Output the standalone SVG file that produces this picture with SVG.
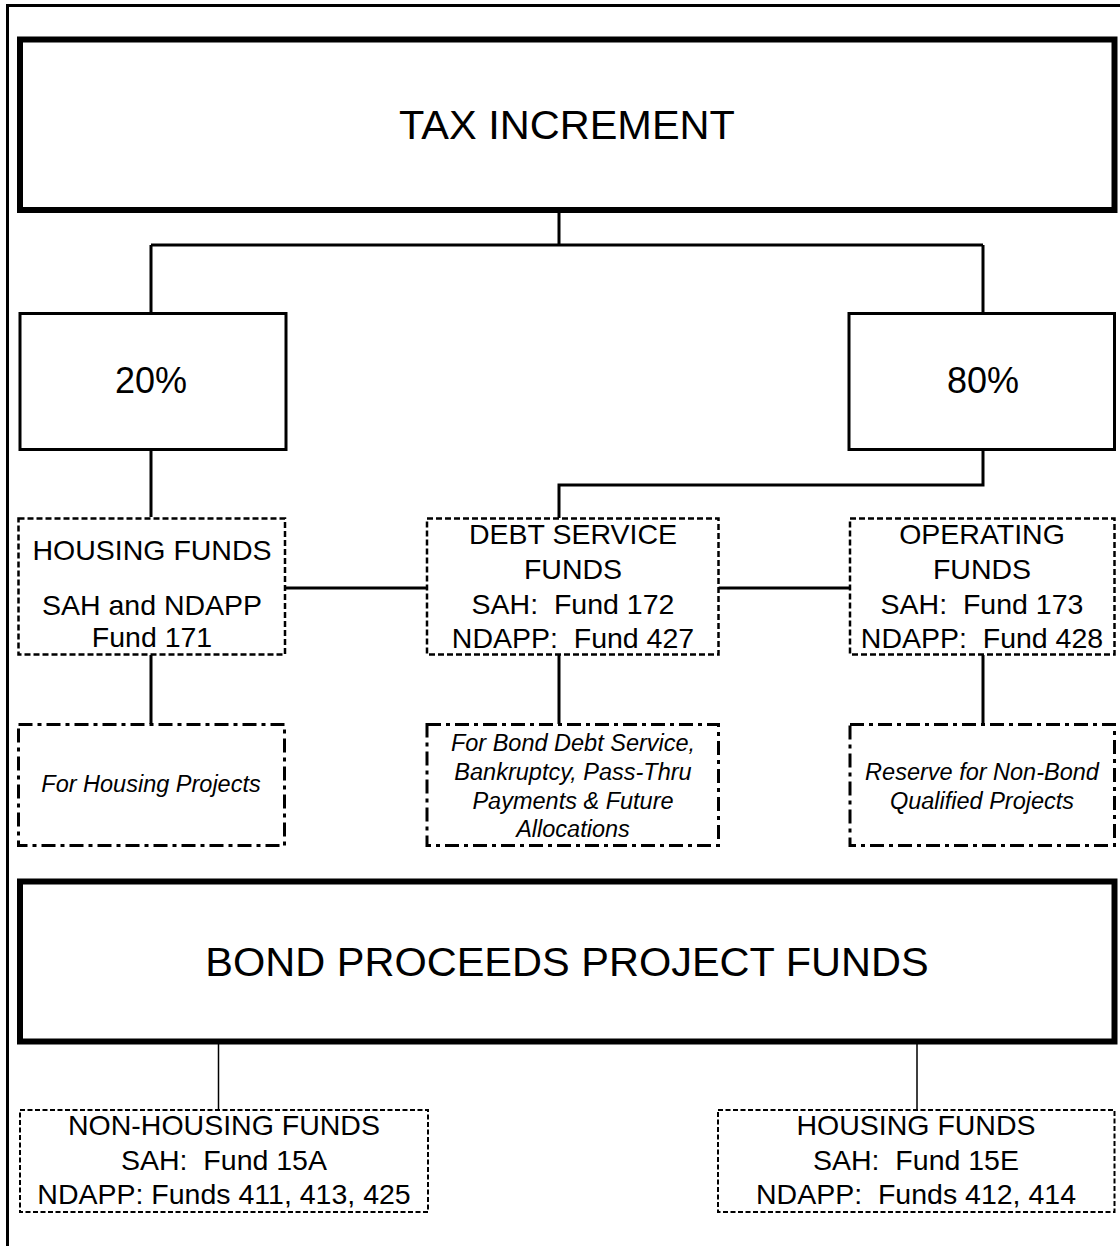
<svg xmlns="http://www.w3.org/2000/svg" width="1120" height="1246" viewBox="0 0 1120 1246">
<style>
  text { font-family: "Liberation Sans", Arial, sans-serif; fill: #000; text-anchor: middle; white-space: pre; }
  .big { font-size: 41.5px; }
  .pct { font-size: 36px; }
  .mid { font-size: 28.5px; }
  .ital { font-size: 23.5px; font-style: italic; }
  .heavy { fill: #fff; stroke: #000; stroke-width: 6; }
  .solid { fill: #fff; stroke: #000; stroke-width: 3; }
  .dash { fill: #fff; stroke: #000; stroke-width: 2.5; stroke-dasharray: 6 3; }
  .dashdot { fill: #fff; stroke: #000; stroke-width: 3; stroke-dasharray: 14 5 4 5; }
  .dashthin { fill: #fff; stroke: #000; stroke-width: 2; stroke-dasharray: 5 2.5; }
  .conn { fill: none; stroke: #000; stroke-width: 3; }
  .connthin { fill: none; stroke: #000; stroke-width: 1.5; }
</style>
<rect x="0" y="0" width="1120" height="1246" fill="#fff"/>
<path d="M7.5,1246 V5.5 H1120" fill="none" stroke="#000" stroke-width="3"/>

<g id="connectors">
  <path class="conn" d="M559,213 V245 M151,245 H983 M151,245 V312 M983,245 V312"/>
  <path class="conn" d="M151,451 V517"/>
  <path class="conn" d="M983,451 V485 H559 V518"/>
  <path class="conn" d="M285,588 H427 M718.5,588 H850"/>
  <path class="conn" d="M151,655 V724 M559,655 V724 M983,655 V724"/>
  <path class="connthin" d="M218.5,1044 V1110 M917,1044 V1110"/>
</g>

<g id="tax-increment">
  <rect class="heavy" x="20" y="39.5" width="1094.5" height="170.5"/>
  <text class="big" x="567" y="139">TAX INCREMENT</text>
</g>

<g id="pct20">
  <rect class="solid" x="20" y="313.5" width="266" height="136"/>
  <text class="pct" x="151" y="393">20%</text>
</g>

<g id="pct80">
  <rect class="solid" x="849" y="313.5" width="265.5" height="136"/>
  <text class="pct" x="983" y="393">80%</text>
</g>

<g id="housing-funds">
  <rect class="dash" x="18.5" y="518.5" width="266.5" height="136"/>
  <text class="mid" x="152" y="560">HOUSING FUNDS</text>
  <text class="mid" x="152" y="615">SAH and NDAPP</text>
  <text class="mid" x="152" y="647">Fund 171</text>
</g>

<g id="debt-service-funds">
  <rect class="dash" x="427" y="518.5" width="291.5" height="136"/>
  <text class="mid" x="573" y="544">DEBT SERVICE</text>
  <text class="mid" x="573" y="579">FUNDS</text>
  <text class="mid" x="573" y="614">SAH:  Fund 172</text>
  <text class="mid" x="573" y="648">NDAPP:  Fund 427</text>
</g>

<g id="operating-funds">
  <rect class="dash" x="850" y="518.5" width="264.5" height="136"/>
  <text class="mid" x="982" y="544">OPERATING</text>
  <text class="mid" x="982" y="579">FUNDS</text>
  <text class="mid" x="982" y="614">SAH:  Fund 173</text>
  <text class="mid" x="982" y="648">NDAPP:  Fund 428</text>
</g>

<g id="housing-projects">
  <rect class="dashdot" x="18.5" y="724.5" width="266" height="121"/>
  <text class="ital" x="151" y="792">For Housing Projects</text>
</g>

<g id="bond-debt-service">
  <rect class="dashdot" x="427" y="724.5" width="291.5" height="121"/>
  <text class="ital" x="573" y="751">For Bond Debt Service,</text>
  <text class="ital" x="573" y="780">Bankruptcy, Pass-Thru</text>
  <text class="ital" x="573" y="808.5">Payments &amp; Future</text>
  <text class="ital" x="573" y="837">Allocations</text>
</g>

<g id="reserve-non-bond">
  <rect class="dashdot" x="850" y="724.5" width="264.5" height="121"/>
  <text class="ital" x="982" y="780">Reserve for Non-Bond</text>
  <text class="ital" x="982" y="809">Qualified Projects</text>
</g>

<g id="bond-proceeds">
  <rect class="heavy" x="20" y="881.5" width="1094.5" height="160"/>
  <text class="big" x="567" y="976">BOND PROCEEDS PROJECT FUNDS</text>
</g>

<g id="non-housing-funds">
  <rect class="dashthin" x="20" y="1110" width="408" height="102"/>
  <text class="mid" x="224" y="1135">NON-HOUSING FUNDS</text>
  <text class="mid" x="224" y="1169.5">SAH:  Fund 15A</text>
  <text class="mid" x="224" y="1204">NDAPP: Funds 411, 413, 425</text>
</g>

<g id="bond-housing-funds">
  <rect class="dashthin" x="718" y="1110" width="396.5" height="102"/>
  <text class="mid" x="916" y="1135">HOUSING FUNDS</text>
  <text class="mid" x="916" y="1169.5">SAH:  Fund 15E</text>
  <text class="mid" x="916" y="1204">NDAPP:  Funds 412, 414</text>
</g>
</svg>
